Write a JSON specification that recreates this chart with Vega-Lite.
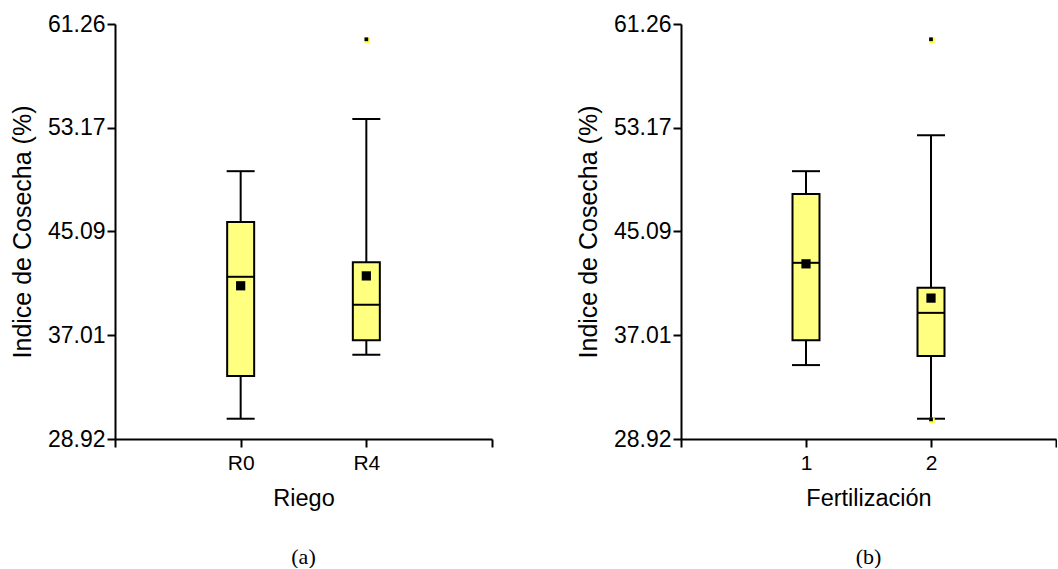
{
  "$schema": "https://vega.github.io/schema/vega-lite/v6.json",
  "padding": {"left": 10, "top": 13, "right": 0, "bottom": 0},
  "background": "white",
  "datasets": {
    "riego": [
      {"Riego": "R0", "min": 30.50, "q1": 33.82, "mediana": 41.56, "q3": 45.84, "max": 49.79, "media": 40.86},
      {"Riego": "R4", "min": 35.48, "q1": 36.62, "mediana": 39.38, "q3": 42.70, "max": 53.86, "media": 41.63}
    ],
    "riego_out": [
      {"Riego": "R4", "valor": 60.07}
    ],
    "fert": [
      {"Fertilización": "1", "min": 34.68, "q1": 36.62, "mediana": 42.65, "q3": 48.02, "max": 49.79, "media": 42.57},
      {"Fertilización": "2", "min": 30.50, "q1": 35.38, "mediana": 38.75, "q3": 40.70, "max": 52.59, "media": 39.90}
    ],
    "fert_out": [
      {"Fertilización": "2", "valor": 60.07},
      {"Fertilización": "2", "valor": 30.45}
    ]
  },
  "config": {
    "view": {"stroke": null},
    "font": "Liberation Sans",
    "axis": {
      "domainColor": "black",
      "domainWidth": 2,
      "tickColor": "black",
      "tickWidth": 2,
      "tickSize": 8,
      "labelColor": "black",
      "titleColor": "black",
      "labelFont": "Liberation Sans",
      "titleFont": "Liberation Sans",
      "titleFontWeight": "normal",
      "grid": false
    },
    "axisX": {"labelFontSize": 21, "titleFontSize": 23.5, "labelAngle": 0, "labelPadding": 5, "titlePadding": 13},
    "axisY": {"labelFontSize": 23, "titleFontSize": 25, "labelPadding": 2, "titlePadding": 12},
    "title": {"font": "Liberation Serif", "fontSize": 22, "fontWeight": "normal", "color": "black", "orient": "bottom", "offset": 37}
  },
  "spacing": 83,
  "hconcat": [
    {
      "width": 377,
      "height": 415,
      "title": {"text": "(a)"},
      "resolve": {"scale": {"x": "independent"}, "axis": {"x": "independent"}},
      "layer": [
        {
          "layer": [
            {
              "data": {"name": "riego"},
              "mark": {"type": "rule", "color": "black", "strokeWidth": 2},
              "encoding": {
                "x": {"field": "Riego", "type": "nominal", "scale": {"type": "point", "padding": 1}, "axis": {"title": "Riego", "orient": "bottom"}},
                "y": {"field": "min", "type": "quantitative", "scale": {"domain": [28.92, 61.26], "nice": false, "zero": false}, "axis": {"values": [28.92, 37.01, 45.09, 53.17, 61.26], "format": ".2f", "title": "Indice de Cosecha (%)"}},
                "y2": {"field": "max"}
              }
            },
            {
              "data": {"name": "riego"},
              "mark": {"type": "tick", "color": "black", "size": 28, "thickness": 2, "opacity": 1},
              "encoding": {
                "x": {"field": "Riego", "type": "nominal"},
                "y": {"field": "min", "type": "quantitative"}
              }
            },
            {
              "data": {"name": "riego"},
              "mark": {"type": "tick", "color": "black", "size": 28, "thickness": 2, "opacity": 1},
              "encoding": {
                "x": {"field": "Riego", "type": "nominal"},
                "y": {"field": "max", "type": "quantitative"}
              }
            },
            {
              "data": {"name": "riego"},
              "mark": {"type": "bar", "fill": "#FFFF80", "stroke": "black", "strokeWidth": 2, "size": 27},
              "encoding": {
                "x": {"field": "Riego", "type": "nominal"},
                "y": {"field": "q1", "type": "quantitative"},
                "y2": {"field": "q3"}
              }
            },
            {
              "data": {"name": "riego"},
              "mark": {"type": "tick", "color": "black", "size": 28, "thickness": 2, "opacity": 1},
              "encoding": {
                "x": {"field": "Riego", "type": "nominal"},
                "y": {"field": "mediana", "type": "quantitative"}
              }
            },
            {
              "data": {"name": "riego"},
              "mark": {"type": "square", "color": "black", "filled": true, "size": 85, "opacity": 1},
              "encoding": {
                "x": {"field": "Riego", "type": "nominal"},
                "y": {"field": "media", "type": "quantitative"}
              }
            },
            {
              "data": {"name": "riego_out"},
              "mark": {"type": "square", "color": "#FFFF40", "filled": true, "size": 30, "opacity": 1, "xOffset": 1, "yOffset": 1},
              "encoding": {
                "x": {"field": "Riego", "type": "nominal"},
                "y": {"field": "valor", "type": "quantitative"}
              }
            },
            {
              "data": {"name": "riego_out"},
              "mark": {"type": "square", "color": "black", "filled": true, "size": 14, "opacity": 1},
              "encoding": {
                "x": {"field": "Riego", "type": "nominal"},
                "y": {"field": "valor", "type": "quantitative"}
              }
            }
          ]
        },
        {
          "data": {"values": [{}]},
          "mark": {"type": "rule", "opacity": 0},
          "encoding": {
            "x": {"datum": 0, "type": "quantitative", "scale": {"domain": [0, 1], "nice": false, "zero": false}, "axis": {"orient": "bottom", "values": [0, 1], "labels": false, "domain": false, "title": null}}
          }
        }
      ]
    },
    {
      "width": 375,
      "height": 415,
      "title": {"text": "(b)"},
      "resolve": {"scale": {"x": "independent"}, "axis": {"x": "independent"}},
      "layer": [
        {
          "layer": [
            {
              "data": {"name": "fert"},
              "mark": {"type": "rule", "color": "black", "strokeWidth": 2},
              "encoding": {
                "x": {"field": "Fertilización", "type": "nominal", "scale": {"type": "point", "padding": 1}, "axis": {"title": "Fertilización", "orient": "bottom"}},
                "y": {"field": "min", "type": "quantitative", "scale": {"domain": [28.92, 61.26], "nice": false, "zero": false}, "axis": {"values": [28.92, 37.01, 45.09, 53.17, 61.26], "format": ".2f", "title": "Indice de Cosecha (%)"}},
                "y2": {"field": "max"}
              }
            },
            {
              "data": {"name": "fert"},
              "mark": {"type": "tick", "color": "black", "size": 28, "thickness": 2, "opacity": 1},
              "encoding": {
                "x": {"field": "Fertilización", "type": "nominal"},
                "y": {"field": "min", "type": "quantitative"}
              }
            },
            {
              "data": {"name": "fert"},
              "mark": {"type": "tick", "color": "black", "size": 28, "thickness": 2, "opacity": 1},
              "encoding": {
                "x": {"field": "Fertilización", "type": "nominal"},
                "y": {"field": "max", "type": "quantitative"}
              }
            },
            {
              "data": {"name": "fert"},
              "mark": {"type": "bar", "fill": "#FFFF80", "stroke": "black", "strokeWidth": 2, "size": 27},
              "encoding": {
                "x": {"field": "Fertilización", "type": "nominal"},
                "y": {"field": "q1", "type": "quantitative"},
                "y2": {"field": "q3"}
              }
            },
            {
              "data": {"name": "fert"},
              "mark": {"type": "tick", "color": "black", "size": 28, "thickness": 2, "opacity": 1},
              "encoding": {
                "x": {"field": "Fertilización", "type": "nominal"},
                "y": {"field": "mediana", "type": "quantitative"}
              }
            },
            {
              "data": {"name": "fert"},
              "mark": {"type": "square", "color": "black", "filled": true, "size": 85, "opacity": 1},
              "encoding": {
                "x": {"field": "Fertilización", "type": "nominal"},
                "y": {"field": "media", "type": "quantitative"}
              }
            },
            {
              "data": {"name": "fert_out"},
              "mark": {"type": "square", "color": "#FFFF40", "filled": true, "size": 30, "opacity": 1, "xOffset": 1, "yOffset": 1},
              "encoding": {
                "x": {"field": "Fertilización", "type": "nominal"},
                "y": {"field": "valor", "type": "quantitative"}
              }
            },
            {
              "data": {"name": "fert_out"},
              "mark": {"type": "square", "color": "black", "filled": true, "size": 14, "opacity": 1},
              "encoding": {
                "x": {"field": "Fertilización", "type": "nominal"},
                "y": {"field": "valor", "type": "quantitative"}
              }
            }
          ]
        },
        {
          "data": {"values": [{}]},
          "mark": {"type": "rule", "opacity": 0},
          "encoding": {
            "x": {"datum": 0, "type": "quantitative", "scale": {"domain": [0, 1], "nice": false, "zero": false}, "axis": {"orient": "bottom", "values": [0, 1], "labels": false, "domain": false, "title": null}}
          }
        }
      ]
    }
  ]
}
